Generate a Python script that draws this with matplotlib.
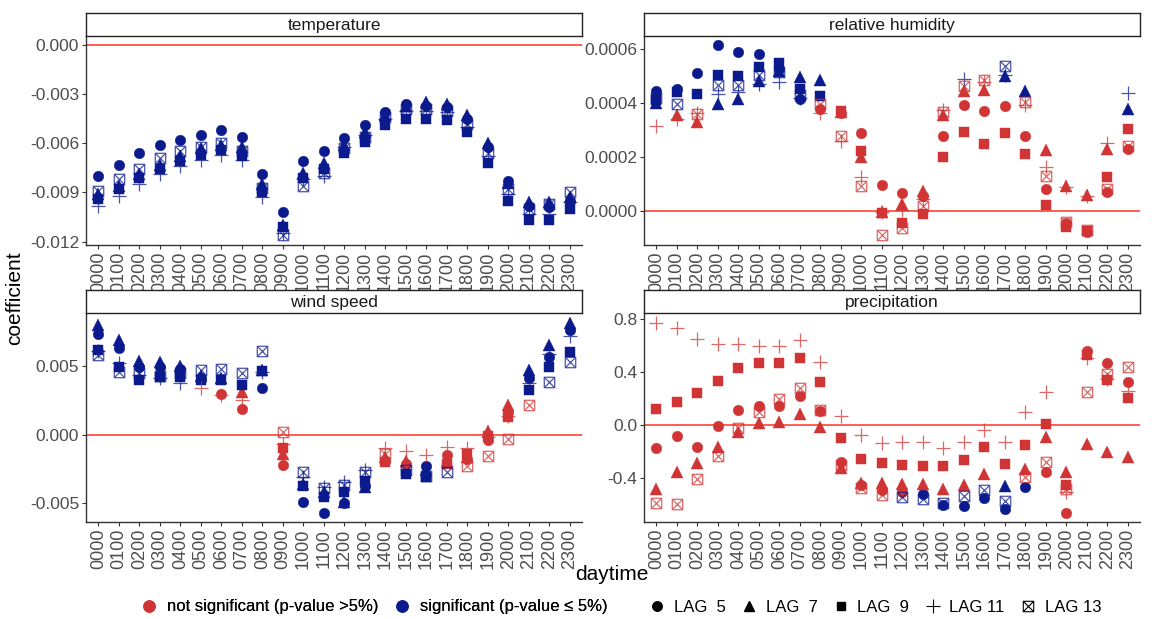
import matplotlib
matplotlib.use('Agg')
import matplotlib.pyplot as plt
from matplotlib.path import Path
from matplotlib.lines import Line2D
import numpy as np

plt.rcParams['font.family'] = ['Liberation Sans', 'DejaVu Sans']

hours = ['%02d00' % h for h in range(24)]

# temperature (all significant)
temp_l5 = [-0.0080, -0.0073, -0.0066, -0.0061, -0.0058, -0.0055, -0.0052, -0.0056, -0.0079, -0.0102, -0.0071, -0.0065,
           -0.0057, -0.0049, -0.0041, -0.0036, -0.0037, -0.0038, -0.0045, -0.0062, -0.0083, -0.0098, -0.0099, -0.0095]
temp_l7 = [-0.0091, -0.0086, -0.0079, -0.0073, -0.0068, -0.0063, -0.0061, -0.0062, -0.0085, -0.0110, -0.0078, -0.0072,
           -0.0061, -0.0053, -0.0043, -0.0037, -0.0035, -0.0036, -0.0043, -0.0060, -0.0084, -0.0096, -0.0096, -0.0093]
temp_l9 = [-0.0094, -0.0088, -0.0081, -0.0076, -0.0071, -0.0067, -0.0064, -0.0068, -0.0090, -0.0111, -0.0081, -0.0076,
           -0.0066, -0.0059, -0.0049, -0.0045, -0.0045, -0.0046, -0.0053, -0.0072, -0.0095, -0.0107, -0.0107, -0.0100]
temp_l11 = [-0.0098, -0.0092, -0.0085, -0.0079, -0.0074, -0.0070, -0.0067, -0.0070, -0.0093, -0.0115, -0.0082, -0.0080,
            -0.0062, -0.0055, -0.0045, -0.0040, -0.0040, -0.0041, -0.0050, -0.0068, -0.0091, -0.0103, -0.0103, -0.0096]
temp_l13 = [-0.0089, -0.0082, -0.0076, -0.0069, -0.0065, -0.0062, -0.0060, -0.0065, -0.0087, -0.0116, -0.0086, -0.0078,
            -0.0063, -0.0056, -0.0044, -0.0039, -0.0039, -0.0040, -0.0048, -0.0066, -0.0088, -0.0100, -0.0097, -0.0090]
temp_sig = ['S' * 24] * 5

# relative humidity (x 1e-4)
rh_l5 = [4.45, 4.50, 5.10, 6.15, 5.88, 5.80, 5.25, 4.16, 3.76, 3.62, 2.88, 0.96,
         0.66, 0.56, 2.76, 3.91, 3.70, 3.89, 2.76, 0.81, -0.47, -0.78, 0.71, 2.30]
rh_l7 = [4.00, 3.55, 3.30, 3.97, 4.14, 4.80, 5.20, 4.97, 4.84, 3.65, 2.00, -0.06,
         0.25, 0.75, 3.54, 4.45, 4.47, 5.00, 4.45, 2.26, 0.93, 0.60, 2.30, 3.79]
rh_l9 = [4.10, 4.40, 4.35, 5.03, 5.00, 5.34, 5.47, 4.50, 4.25, 3.70, 2.21, -0.10,
         -0.47, -0.12, 2.00, 2.92, 2.46, 2.88, 2.11, 0.22, -0.62, -0.75, 1.24, 3.03]
rh_l11 = [3.15, 3.40, 3.63, 4.35, 4.40, 4.70, 4.78, 4.20, 3.63, 2.60, 1.24, -0.06,
          0.02, 0.43, 3.73, 4.87, 4.78, 5.03, 3.91, 1.61, 0.87, 0.56, 2.51, 4.38]
rh_l13 = [4.20, 3.95, 3.60, 4.66, 4.68, 5.03, 5.16, 4.30, 3.97, 2.76, 0.93, -0.90,
          -0.65, 0.19, 3.66, 4.62, 4.84, 5.37, 4.04, 1.28, -0.43, -0.72, 0.81, 2.42]
rh_sig = ['SSSSSSSSNNNNNNNNNNNNNNNN', 'SNNSSSSSSNNNNNNNNSSNNNNS', 'SSSSSSSSSNNNNNNNNNNNNNNN',
          'NNNSSSSSNNNNNNNSNSNNNNNS', 'SSNSSSSSNNNNNNNNNSNNNNNN']

# wind speed (x 1e-3)
wind_l5 = [7.32, 6.34, 4.95, 4.95, 4.76, 4.10, 2.93, 1.85, 3.37, -2.17, -4.90, -5.66,
           -5.00, -3.70, -1.90, -2.10, -2.24, -1.50, -1.76, -0.40, 1.66, 4.10, 5.68, 7.63]
wind_l7 = [8.00, 6.90, 5.40, 5.30, 5.00, 4.27, 4.10, 3.12, 4.70, -1.40, -3.60, -4.20,
           -4.90, -3.80, -1.63, -1.90, -2.60, -1.90, -1.60, 0.30, 2.15, 4.70, 6.54, 8.17]
wind_l9 = [6.17, 4.95, 4.02, 4.22, 4.22, 3.98, 3.98, 3.61, 4.63, -1.00, -3.70, -4.56,
           -4.20, -3.34, -2.00, -2.85, -3.10, -2.10, -1.40, -0.10, 1.30, 3.24, 4.95, 6.05]
wind_l11 = [6.10, 5.20, 4.34, 4.10, 3.78, 3.37, 2.90, 2.56, 4.59, -0.66, -3.10, -3.80,
            -3.46, -2.60, -1.00, -1.15, -1.44, -0.90, -0.95, -0.17, 1.40, 3.78, 5.90, 7.20]
wind_l13 = [5.80, 4.54, 4.46, 4.30, 4.46, 4.71, 4.76, 4.51, 6.12, 0.20, -2.73, -3.90,
            -3.63, -2.73, -1.40, -2.60, -3.00, -2.73, -2.24, -1.56, -0.34, 2.20, 3.85, 5.30]
wind_sig = ['SSSSSSNNSNSSSSNNSNNNNSSS', 'SSSSSSSNSNSSSSNNSNNNNSSS', 'SSSSSSSSSNSSSSNSSNNNNSSS',
            'SSSSSNNNSNSSSSNNNNNNNSSS', 'SSSSSSSSSNSSSSNSSSNNNNSS']

# precipitation
prec_l5 = [-0.176, -0.083, -0.169, -0.005, 0.113, 0.143, 0.143, 0.219, 0.106, -0.277, -0.453, -0.490,
           -0.508, -0.516, -0.604, -0.609, -0.551, -0.634, -0.465, -0.357, -0.659, 0.555, 0.465, 0.327]
prec_l7 = [-0.483, -0.352, -0.289, -0.164, -0.050, 0.013, 0.025, 0.080, -0.018, -0.327, -0.440, -0.440,
           -0.445, -0.445, -0.483, -0.450, -0.370, -0.463, -0.332, -0.093, -0.357, -0.143, -0.206, -0.244]
prec_l9 = [0.118, 0.176, 0.239, 0.335, 0.433, 0.470, 0.470, 0.503, 0.327, -0.096, -0.257, -0.289,
           -0.302, -0.312, -0.307, -0.264, -0.164, -0.294, -0.151, 0.008, -0.450, 0.525, 0.340, 0.200]
prec_l11 = [0.772, 0.730, 0.647, 0.611, 0.611, 0.596, 0.596, 0.641, 0.478, 0.068, -0.075, -0.133,
            -0.131, -0.131, -0.174, -0.131, -0.035, -0.131, 0.096, 0.247, -0.508, 0.505, 0.347, 0.259]
prec_l13 = [-0.591, -0.596, -0.403, -0.234, -0.025, 0.100, 0.196, 0.277, 0.113, -0.302, -0.478, -0.528,
            -0.546, -0.558, -0.584, -0.538, -0.488, -0.576, -0.390, -0.277, -0.483, 0.247, 0.385, 0.440]
prec_sig = ['NNNNNNNNNNNNNSSSSSSNNNNN', 'NNNNNNNNNNNNNNNNNSNNNNNN', 'N' * 24,
            'N' * 24, 'NNNNNNNNNNNNSSSSSSNNNNNN']

lag_labels = ['LAG  5', 'LAG  7', 'LAG  9', 'LAG 11', 'LAG 13']

RED = '#D03434'
BLUE = '#0B1A8C'
ZERO = '#FF5E50'

# square with a cross inside (like ggplot shape 7)
box_x = Path([(-1, -1), (1, -1), (1, 1), (-1, 1), (-1, -1), (-1, -1), (1, 1), (-1, 1), (1, -1)],
             [Path.MOVETO, Path.LINETO, Path.LINETO, Path.LINETO, Path.CLOSEPOLY,
              Path.MOVETO, Path.LINETO, Path.MOVETO, Path.LINETO])

markers = [('o', 7.6, True), ('^', 8.6, True), ('s', 7.0, True), ('+', 10.0, False), (box_x, 7.5, False)]

panels = [
    ('temperature', [temp_l5, temp_l7, temp_l9, temp_l11, temp_l13], temp_sig, 1.0,
     [0.0, -0.003, -0.006, -0.009, -0.012], '%.3f'),
    ('relative humidity', [rh_l5, rh_l7, rh_l9, rh_l11, rh_l13], rh_sig, 1e-4,
     [0.0, 0.0002, 0.0004, 0.0006], '%.4f'),
    ('wind speed', [wind_l5, wind_l7, wind_l9, wind_l11, wind_l13], wind_sig, 1e-3,
     [-0.005, 0.0, 0.005], '%.3f'),
    ('precipitation', [prec_l5, prec_l7, prec_l9, prec_l11, prec_l13], prec_sig, 1.0,
     [-0.4, 0.0, 0.4, 0.8], '%.1f'),
]

W, H = 1154, 619
fig = plt.figure(figsize=(W / 100, H / 100), dpi=100)
fig.patch.set_facecolor('white')

lefts = [86, 644, 86, 644]
tops = [35.5, 35.5, 313, 313]
pw, ph, sh = 496, 209, 23

x = np.arange(24)
for i, (title, series, sig, scale, ticks, fmt) in enumerate(panels):
    l, t = lefts[i], tops[i]
    ax = fig.add_axes([l / W, 1 - (t + ph) / H, pw / W, ph / H])
    sax = fig.add_axes([l / W, 1 - t / H, pw / W, sh / H])
    sax.set_xticks([])
    sax.set_yticks([])
    for sp in sax.spines.values():
        sp.set_color('#222222')
        sp.set_linewidth(1.0)
    sax.text(0.5, 0.45, title, ha='center', va='center', fontsize=12.5, color='#1A1A1A',
             transform=sax.transAxes)

    ax.axhline(0, color=ZERO, lw=1.4, zorder=1)
    allv = []
    for k, vals in enumerate(series):
        v = np.array(vals) * scale
        allv.extend(v)
        m, ms, filled = markers[k]
        s = np.array([c == 'S' for c in sig[k]])
        for mask, col in ((~s, RED), (s, BLUE)):
            if not mask.any():
                continue
            if filled:
                ax.plot(x[mask], v[mask], ls='none', marker=m, ms=ms, color=col,
                        mec=col, mew=0.3, zorder=2 + k)
            else:
                ax.plot(x[mask], v[mask], ls='none', marker=m, ms=ms, mfc='none',
                        mec=col, mew=0.9, alpha=0.75, zorder=2 + k)
    lo = min(min(allv), 0)
    hi = max(max(allv), 0)
    pad = 0.05 * (hi - lo)
    ax.set_ylim(lo - pad, hi + pad)
    ax.set_xlim(-0.6, 23.6)
    ax.set_xticks(x)
    ax.set_xticklabels(hours, rotation=90, fontsize=13)
    ax.set_yticks(ticks)
    ax.set_yticklabels([fmt % tk for tk in ticks], fontsize=12.5)
    ax.spines['top'].set_visible(False)
    ax.spines['right'].set_visible(False)
    for sp in ('left', 'bottom'):
        ax.spines[sp].set_color('#333333')
        ax.spines[sp].set_linewidth(1.0)
    ax.tick_params(length=3, width=0.8, color='#333333', labelcolor='#4D4D4D', pad=2)

fig.text(15 / W, 1 - 298 / H, 'coefficient', rotation=90, ha='center', va='center', fontsize=15)
fig.text(612 / W, 1 - 574 / H, 'daytime', ha='center', va='center', fontsize=15)

col_handles = [Line2D([], [], ls='none', marker='o', ms=8, color=RED),
               Line2D([], [], ls='none', marker='o', ms=8, color=BLUE)]
leg1 = fig.legend(col_handles, ['not significant (p-value >5%)', 'significant (p-value \u2264 5%)'],
                  loc='center', bbox_to_anchor=(374 / W, 1 - 607 / H), ncol=2, frameon=False,
                  fontsize=12, handlelength=1.0, handletextpad=0.6, columnspacing=0.9)
shp_handles = []
for m, ms, filled in markers:
    if filled:
        shp_handles.append(Line2D([], [], ls='none', marker=m, ms=ms * 0.9, color='black'))
    else:
        shp_handles.append(Line2D([], [], ls='none', marker=m, ms=ms, mfc='none', mec='black', mew=0.8))
fig.legend(shp_handles, lag_labels, loc='center', bbox_to_anchor=(875 / W, 1 - 607 / H), ncol=5,
           frameon=False, fontsize=12, handlelength=1.0, handletextpad=0.5, columnspacing=0.9)
fig.add_artist(leg1)

fig.savefig('out.png', dpi=100, facecolor='white')
